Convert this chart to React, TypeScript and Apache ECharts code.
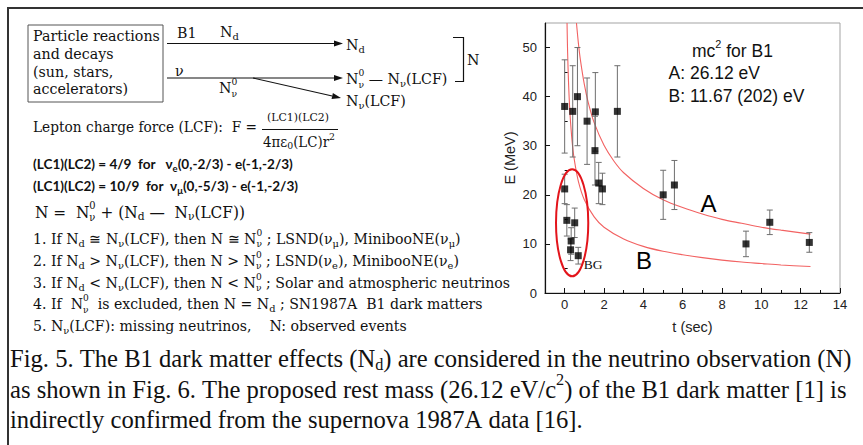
import React, { useEffect, useRef } from "react";
import * as echarts from "echarts";

// ---------------- data ----------------
const eventT = [0, 0.41, 0.65, 1.14, 1.56, 2.68, 5.01, 5.58, 0, 0.11, 0.3, 0.33, 0.51, 0.69, 1.54, 1.73, 1.92, 9.22, 10.43, 12.44];
const eventE = [38, 37, 40, 35, 36.9, 37, 20, 22, 21.2, 14.8, 8.8, 10.6, 14.3, 7.6, 29, 22.4, 21.2, 10, 14.4, 10.3];
const eventErr = [9.5, 9.3, 10, 8.8, 8, 9.3, 5, 5, 3, 3.2, 2.2, 2.7, 3, 1.7, 7, 4.2, 3.2, 2.6, 2.5, 2];

const curveAT = [0.6, 0.7, 0.8, 1.0, 1.2, 1.5, 2.0, 2.5, 3.0, 4.0, 5.0, 6.0, 7.0, 8.0, 9.0, 10.0, 11.0, 12.5];
const curveAE = [55, 50.8, 47.5, 42.5, 38.8, 34.7, 30.1, 26.9, 24.5, 21.3, 19.0, 17.4, 16.1, 15.0, 14.2, 13.4, 12.8, 12.0];
const curveBT = [0.12, 0.15, 0.2, 0.25, 0.3, 0.4, 0.5, 0.7, 1.0, 1.5, 2.0, 3.0, 4.0, 5.0, 6.0, 7.0, 8.0, 9.0, 10.0, 11.0, 12.5];
const curveBE = [55, 49, 42.5, 38, 34.7, 30, 26.9, 22.7, 19, 15.5, 13.4, 11.0, 9.5, 8.5, 7.8, 7.2, 6.7, 6.3, 6.0, 5.7, 5.4];

// background ellipse: centre t, centre E, half width (t), half height (E)
const bgEllipse = [0.38, 14.3, 0.82, 10.9];

const xLabelTicks = [0, 2, 4, 6, 8, 10, 12, 14];
const xMinorTicks = [1, 3, 5, 7, 9, 11, 13];
const yLabelTicks = [0, 10, 20, 30, 40, 50];
const yMinorTicks = [5, 15, 25, 35, 45];

const plotLabels: [number, number, string][] = [
  [7.31, 18.3, "A"],
  [4.04, 6.6, "B"],
];
const bgLabel: [number, number, string] = [1.45, 5.75, "BG"];

const massTitle = "mc^{2} for B1";
const massA = "A: 26.12 eV";
const massB = "B: 11.67 (202) eV";

const boxLines = ["Particle reactions", "and decays", "(sun, stars,", "accelerators)"];
const ruleLines = [
  "1. If N_{d} ≅ N_{ν}(LCF), then N ≅ N^{0}_{ν} ; LSND(ν_{μ}), MinibooNE(ν_{μ})",
  "2. If N_{d} > N_{ν}(LCF), then N > N^{0}_{ν} ; LSND(ν_{e}), MinibooNE(ν_{e})",
  "3. If N_{d} < N_{ν}(LCF), then N < N^{0}_{ν} ; Solar and atmospheric neutrinos",
  "4. If  N^{0}_{ν}  is excluded, then N = N_{d} ; SN1987A  B1 dark matters",
  "5. N_{ν}(LCF): missing neutrinos,    N: observed events",
];
const lcLines = [
  "(LC1)(LC2) = 4/9  for   ν_{e}(0,-2/3) - e(-1,-2/3)",
  "(LC1)(LC2) = 10/9  for  ν_{μ}(0,-5/3) - e(-1,-2/3)",
];
const captionLines = [
  "Fig. 5. The B1 dark matter effects (N_{d}) are considered in the neutrino observation (N)",
  "as shown in Fig. 6. The proposed rest mass (26.12 eV/c^{2}) of the B1 dark matter [1] is",
  "indirectly confirmed from the supernova 1987A data [16].",
];

// ---------------- text helpers ----------------
type Seg = { t: string; kind: "n" | "sub" | "sup" | "ss"; sub?: string };
function parse(s: string): Seg[] {
  const out: Seg[] = [];
  let buf = "";
  let i = 0;
  while (i < s.length) {
    const ch = s[i];
    if ((ch === "_" || ch === "^") && s[i + 1] === "{") {
      const end = s.indexOf("}", i);
      const inner = s.slice(i + 2, end);
      if (buf) {
        out.push({ t: buf, kind: "n" });
        buf = "";
      }
      const last = out[out.length - 1];
      if (ch === "_" && last && last.kind === "sup") {
        last.kind = "ss";
        last.sub = inner;
      } else out.push({ t: inner, kind: ch === "_" ? "sub" : "sup" });
      i = end + 1;
    } else {
      buf += ch;
      i++;
    }
  }
  if (buf) out.push({ t: buf, kind: "n" });
  return out;
}

let mctx: CanvasRenderingContext2D | null = null;
function tw(text: string, size: number, family: string, weight = "normal") {
  if (!mctx) mctx = document.createElement("canvas").getContext("2d");
  mctx!.font = `${weight} ${size}px ${family}`;
  return mctx!.measureText(text).width;
}

type LOpt = { family: string; weight?: string; fill?: string; subScale?: number };
function plainRun(els: any[], x: number, y: number, text: string, size: number, o: LOpt) {
  let cx = x;
  const parts = text.split(/( +)/);
  for (const p of parts) {
    if (!p) continue;
    if (/^ +$/.test(p)) {
      cx += tw(p, size, o.family, o.weight);
      continue;
    }
    els.push({
      type: "text",
      x: cx,
      y,
      silent: true,
      style: {
        text: p,
        fontSize: size,
        fontFamily: o.family,
        fontWeight: o.weight || "normal",
        fill: o.fill || "#111",
        align: "left",
        verticalAlign: "middle",
      },
    });
    cx += tw(p, size, o.family, o.weight);
  }
  return cx - x;
}
function richLine(x: number, y: number, s: string, size: number, o: LOpt) {
  const els: any[] = [];
  let cx = x;
  const ss = size * (o.subScale || 0.7);
  for (const seg of parse(s)) {
    if (seg.kind === "n") cx += plainRun(els, cx, y, seg.t, size, o);
    else if (seg.kind === "sub") cx += plainRun(els, cx, y + size * 0.3, seg.t, ss, o);
    else if (seg.kind === "sup") cx += plainRun(els, cx, y - size * 0.36, seg.t, ss, o);
    else {
      const s2 = ss * 0.92;
      const w1 = plainRun(els, cx, y - size * 0.43, seg.t, s2, o);
      const w2 = plainRun(els, cx, y + size * 0.36, seg.sub || "", s2, o);
      cx += Math.max(w1, w2);
    }
  }
  return { els, width: cx - x };
}
function fit(s: string, target: number, o: LOpt) {
  const w = richLine(0, 0, s, 20, o).width;
  return (20 * target) / w;
}
// a line drawn at a given font size, squeezed horizontally to a target width
function scaledLine(x: number, y: number, s: string, size: number, target: number, o: LOpt) {
  const r = richLine(0, y, s, size, o);
  return { type: "group", x, y: 0, scaleX: target / r.width, children: r.els };
}
function arrow(x1: number, y1: number, x2: number, y2: number) {
  const dx = x2 - x1, dy = y2 - y1;
  const L = Math.hypot(dx, dy);
  const ux = dx / L, uy = dy / L;
  const bx = x2 - ux * 9, by = y2 - uy * 9;
  return [
    { type: "line", silent: true, shape: { x1, y1, x2: bx, y2: by }, style: { stroke: "#111", lineWidth: 1.1 } },
    {
      type: "polygon",
      silent: true,
      shape: { points: [[x2, y2], [bx - uy * 3, by + ux * 3], [bx + uy * 3, by - ux * 3]] },
      style: { fill: "#111" },
    },
  ];
}

function buildGraphic() {
  const els: any[] = [];
  const SERIF = "DejaVu Serif";
  const TIMES = "Liberation Serif";
  const ARIAL = "Liberation Sans";
  const so: LOpt = { family: SERIF };

  // frame of the figure
  els.push({ type: "line", silent: true, shape: { x1: 7, y1: 8, x2: 863, y2: 8 }, style: { stroke: "#333", lineWidth: 2 } });
  els.push({ type: "line", silent: true, shape: { x1: 8, y1: 8, x2: 8, y2: 445 }, style: { stroke: "#333", lineWidth: 2 } });

  // box
  els.push({ type: "rect", silent: true, shape: { x: 28, y: 25, width: 135, height: 77 }, style: { fill: "none", stroke: "#555", lineWidth: 1 } });
  const boxSize = fit(boxLines[0], 127, so);
  const boxY = [36, 53.5, 71.5, 89];
  boxLines.forEach((l, i) => els.push(...richLine(33, boxY[i], l, boxSize, so).els));

  const ds = boxSize;
  els.push(...richLine(177, 33, "B1", ds, so).els);
  els.push(...richLine(220, 32, "N_{d}", ds, so).els);
  els.push(...arrow(167, 43.5, 343, 43.5));
  els.push(...richLine(346, 45, "N_{d}", ds, so).els);
  els.push(...richLine(175, 71, "ν", ds, so).els);
  els.push(...arrow(167, 78, 343, 78));
  els.push(...richLine(219, 88, "N^{0}_{ν}", ds, so).els);
  els.push(...richLine(346, 79, "N^{0}_{ν} — N_{ν}(LCF)", ds, so).els);
  els.push(...arrow(253, 78, 341, 98));
  els.push(...richLine(346, 101, "N_{ν}(LCF)", ds, so).els);
  els.push({
    type: "polyline",
    silent: true,
    shape: { points: [[453, 37.5], [463.5, 37.5], [463.5, 81.5], [455, 81.5]] },
    style: { stroke: "#111", lineWidth: 1.2, fill: "none" },
  });
  els.push(...richLine(467, 60, "N", ds, so).els);

  // lepton charge force
  els.push(scaledLine(33, 127, "Lepton charge force (LCF):  F =", 15, 224, so));
  const num = "(LC1)(LC2)";
  els.push(scaledLine(267, 117.5, num, 11, 62, so));
  els.push({ type: "line", silent: true, shape: { x1: 262, y1: 129.5, x2: 338, y2: 129.5 }, style: { stroke: "#111", lineWidth: 1 } });
  const den = "4πε_{0}(LC)r^{2}";
  els.push(scaledLine(263, 141.5, den, 14, 72, so));

  // LC lines
  const lo: LOpt = { family: "Lato", weight: "bold" };
  const lcS = fit(lcLines[0], 260, lo);
  els.push(...richLine(33, 164, lcLines[0], lcS, lo).els);
  els.push(...richLine(33, 186, lcLines[1], lcS, lo).els);

  // N = ...
  const eq = "N =  N^{0}_{ν} + (N_{d} —  N_{ν}(LCF))";
  els.push(scaledLine(35, 212, eq, 16, 210, so));

  // rules
  const rW = richLine(0, 0, ruleLines[2], 14, so).width;
  const rScale = 477 / rW;
  const rY = [239, 261, 283, 304.5, 326];
  ruleLines.forEach((l, i) => {
    const r = richLine(0, rY[i], l, 14, so);
    els.push({ type: "group", x: 33, y: 0, scaleX: rScale, children: r.els });
  });

  // caption
  const co: LOpt = { family: TIMES, subScale: 0.66 };
  const cS = fit(captionLines[0], 842, co);
  const cY = [358, 389, 419];
  captionLines.forEach((l, i) => els.push(...richLine(10, cY[i], l, cS, co).els));

  // mass annotation in the plot
  const ao: LOpt = { family: ARIAL, fill: "#111", subScale: 0.62 };
  els.push(...richLine(692, 50.5, massTitle, 17.5, ao).els);
  els.push(...richLine(668.5, 73, massA, 17.5, ao).els);
  els.push(...richLine(668.5, 95.5, massB, 17.5, ao).els);
  return els;
}

export default function App() {
  const ref = useRef<HTMLDivElement>(null);
  useEffect(() => {
    if (!ref.current) return;
    const chart = echarts.init(ref.current, null, { renderer: "svg" });
    const ARIAL = "Liberation Sans";
    const axisCommon = {
      type: "value" as const,
      splitLine: { show: false },
    };
    const option: any = {
      animation: false,
      backgroundColor: "#fff",
      grid: {
        left: 545,
        right: 23,
        top: 23,
        bottom: 152,
        show: true,
        borderColor: "#a3a3a3",
        borderWidth: 1,
        backgroundColor: "transparent",
      },
      xAxis: [
        {
          ...axisCommon,
          min: -1,
          max: 14,
          name: "t (sec)",
          nameLocation: "middle",
          nameGap: 26,
          nameTextStyle: { fontFamily: ARIAL, fontSize: 14.5, color: "#222" },
          axisLine: { show: true, onZero: false, lineStyle: { color: "#111", width: 1.2 } },
          axisTick: { show: true, inside: true, length: 5, customValues: xLabelTicks, lineStyle: { color: "#111" } },
          axisLabel: { show: true, customValues: xLabelTicks, fontFamily: ARIAL, fontSize: 13, color: "#222", margin: 5 },
        },
        {
          ...axisCommon,
          min: -1,
          max: 14,
          position: "bottom",
          axisLine: { show: false },
          axisTick: { show: true, inside: true, length: 3, customValues: xMinorTicks, lineStyle: { color: "#111" } },
          axisLabel: { show: false },
        },
      ],
      yAxis: [
        {
          ...axisCommon,
          min: 0,
          max: 55,
          name: "E (MeV)",
          nameLocation: "middle",
          nameGap: 28,
          nameTextStyle: { fontFamily: ARIAL, fontSize: 14.5, color: "#222" },
          axisLine: { show: true, onZero: false, lineStyle: { color: "#111", width: 1.2 } },
          axisTick: { show: true, inside: true, length: 5, customValues: yLabelTicks, lineStyle: { color: "#111" } },
          axisLabel: { show: true, customValues: yLabelTicks, fontFamily: ARIAL, fontSize: 13, color: "#222", margin: 8 },
        },
        {
          ...axisCommon,
          min: 0,
          max: 55,
          position: "left",
          axisLine: { show: false },
          axisTick: { show: true, inside: true, length: 3, customValues: yMinorTicks, lineStyle: { color: "#111" } },
          axisLabel: { show: false },
        },
      ],
      series: [
        {
          type: "line",
          name: "A",
          data: curveAT.map((t, i) => [t, curveAE[i]]),
          showSymbol: false,
          smooth: 0.3,
          lineStyle: { color: "#f26262", width: 1.1 },
          z: 2,
        },
        {
          type: "line",
          name: "B",
          data: curveBT.map((t, i) => [t, curveBE[i]]),
          showSymbol: false,
          smooth: 0.3,
          lineStyle: { color: "#f26262", width: 1.1 },
          z: 2,
        },
        {
          type: "custom",
          name: "errors",
          data: eventT.map((t, i) => [t, eventE[i], eventErr[i]]),
          encode: { x: 0, y: 1 },
          z: 3,
          renderItem: (_p: any, api: any) => {
            const x = api.value(0), y = api.value(1), e = api.value(2);
            const hi = api.coord([x, y + e]);
            const lo = api.coord([x, y - e]);
            const w = 3;
            const st = { stroke: "#6e6e6e", lineWidth: 1 };
            return {
              type: "group",
              children: [
                { type: "line", shape: { x1: hi[0], y1: hi[1], x2: lo[0], y2: lo[1] }, style: st },
                { type: "line", shape: { x1: hi[0] - w, y1: hi[1], x2: hi[0] + w, y2: hi[1] }, style: st },
                { type: "line", shape: { x1: lo[0] - w, y1: lo[1], x2: lo[0] + w, y2: lo[1] }, style: st },
              ],
            };
          },
        },
        {
          type: "scatter",
          name: "events",
          data: eventT.map((t, i) => [t, eventE[i]]),
          symbol: "rect",
          symbolSize: 7,
          itemStyle: { color: "#000" },
          z: 4,
        },
        {
          type: "custom",
          name: "bg",
          data: [bgEllipse],
          encode: { x: 0, y: 1 },
          z: 5,
          renderItem: (_p: any, api: any) => {
            const c = api.coord([api.value(0), api.value(1)]);
            const s = api.size([api.value(2), api.value(3)]);
            return {
              type: "ellipse",
              shape: { cx: c[0], cy: c[1], rx: s[0], ry: s[1] },
              style: { fill: "none", stroke: "#e3141b", lineWidth: 2 },
            };
          },
        },
        {
          type: "custom",
          name: "labels",
          data: plotLabels,
          encode: { x: 0, y: 1 },
          z: 5,
          renderItem: (_p: any, api: any) => {
            const c = api.coord([api.value(0), api.value(1)]);
            return {
              type: "text",
              x: c[0],
              y: c[1],
              style: {
                text: plotLabels[_p.dataIndex][2],
                fontFamily: ARIAL,
                fontSize: 24,
                fill: "#000",
                align: "center",
                verticalAlign: "middle",
              },
            };
          },
        },
        {
          type: "custom",
          name: "bgLabel",
          data: [bgLabel],
          encode: { x: 0, y: 1 },
          z: 5,
          renderItem: (_p: any, api: any) => {
            const c = api.coord([api.value(0), api.value(1)]);
            return {
              type: "text",
              x: c[0],
              y: c[1],
              style: {
                text: bgLabel[2],
                fontFamily: "Liberation Serif",
                fontSize: 13.5,
                fill: "#111",
                align: "center",
                verticalAlign: "middle",
              },
            };
          },
        },
      ],
      graphic: { elements: buildGraphic() },
    };
    chart.setOption(option);
    return () => chart.dispose();
  }, []);
  return (
    <div
      ref={ref}
      style={{ position: "absolute", left: 0, top: 0, width: 863, height: 445, background: "#fff" }}
    />
  );
}
